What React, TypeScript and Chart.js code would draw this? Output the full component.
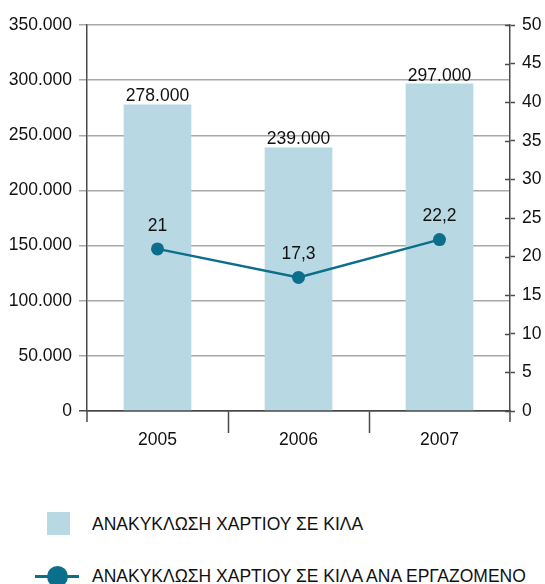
import React, { useEffect, useRef } from "react";
import { Chart, registerables } from "chart.js";

Chart.register(...registerables);

const categories = ["2005", "2006", "2007"];
const paperKg = [278000, 239000, 297000];
const paperKgPerEmployee = [21, 17.3, 22.2];
const leftTicksMax = 350000;
const leftTicksStep = 50000;
const rightTicksMax = 50;
const rightTicksStep = 5;
const legendLabels = [
  "ΑΝΑΚΥΚΛΩΣΗ ΧΑΡΤΙΟΥ ΣΕ ΚΙΛΑ",
  "ΑΝΑΚΥΚΛΩΣΗ ΧΑΡΤΙΟΥ ΣΕ ΚΙΛΑ ΑΝΑ ΕΡΓΑΖΟΜΕΝΟ",
];

const BAR_COLOR = "#b8d8e4";
const LINE_COLOR = "#0b6e8b";
const GRID_COLOR = "#a8a8a8";
const AXIS_COLOR = "#4a4a4a";
const TEXT_COLOR = "#111111";
const FONT = "'Liberation Sans', Arial, sans-serif";
const FONT_SIZE = 17.5;

function fmtThousands(v: number): string {
  const s = Math.round(v).toString();
  return s.replace(/\B(?=(\d{3})+(?!\d))/g, ".");
}
function fmtDecimal(v: number): string {
  return v.toString().replace(".", ",");
}

const labelsPlugin = {
  id: "valueLabels",
  afterDatasetsDraw(chart: any) {
    const ctx = chart.ctx;
    ctx.save();
    ctx.font = `${FONT_SIZE}px ${FONT}`;
    ctx.fillStyle = TEXT_COLOR;
    ctx.textAlign = "center";
    chart.data.datasets.forEach((ds: any, di: number) => {
      const meta = chart.getDatasetMeta(di);
      meta.data.forEach((el: any, i: number) => {
        const v = ds.data[i];
        if (ds.type === "bar") {
          ctx.textBaseline = "bottom";
          ctx.fillText(fmtThousands(v), el.x, el.y + 1);
        } else {
          ctx.textBaseline = "middle";
          ctx.fillText(fmtDecimal(v), el.x, el.y - 23);
        }
      });
    });
    ctx.restore();
  },
};

const axisExtrasPlugin = {
  id: "axisExtras",
  afterDraw(chart: any) {
    const ctx = chart.ctx;
    const area = chart.chartArea;
    const y1 = chart.scales.y1;
    ctx.save();
    ctx.strokeStyle = AXIS_COLOR;
    ctx.lineWidth = 1.5;
    // inner half of right-axis tick marks
    y1.ticks.forEach((t: any) => {
      const py = Math.round(y1.getPixelForValue(t.value)) + 0.5;
      ctx.beginPath();
      ctx.moveTo(area.right - 5, py);
      ctx.lineTo(area.right, py);
      ctx.stroke();
    });
    // axis extensions below the chart area
    [area.left, area.right].forEach((x: number) => {
      ctx.beginPath();
      ctx.moveTo(x, area.bottom);
      ctx.lineTo(x, area.bottom + 11);
      ctx.stroke();
    });
    ctx.restore();
  },
};

export default function App() {
  const canvasRef = useRef<HTMLCanvasElement | null>(null);

  useEffect(() => {
    const canvas = canvasRef.current;
    if (!canvas) return;
    const chart = new Chart(canvas, {
      type: "bar",
      data: {
        labels: categories,
        datasets: [
          {
            type: "line",
            label: legendLabels[1],
            data: paperKgPerEmployee,
            yAxisID: "y1",
            borderColor: LINE_COLOR,
            backgroundColor: LINE_COLOR,
            borderWidth: 2.5,
            pointRadius: 6.5,
            pointBackgroundColor: LINE_COLOR,
            pointBorderColor: LINE_COLOR,
            pointBorderWidth: 0,
            tension: 0,
            order: 0,
          } as any,
          {
            type: "bar",
            label: legendLabels[0],
            data: paperKg,
            yAxisID: "y",
            backgroundColor: BAR_COLOR,
            borderWidth: 0,
            categoryPercentage: 1,
            barPercentage: 0.48,
            order: 1,
          } as any,
        ],
      },
      options: {
        responsive: false,
        animation: false,
        devicePixelRatio: 1,
        layout: { padding: { top: 25, left: 0, right: 0, bottom: 0 } },
        plugins: {
          legend: { display: false },
          tooltip: { enabled: false },
        },
        scales: {
          x: {
            offset: true,
            grid: {
              offset: true,
              drawOnChartArea: false,
              drawTicks: true,
              tickLength: 22,
              tickWidth: 1.5,
              tickColor: (c: any) =>
                c.type === "scale" || c.index === 0 ? "rgba(0,0,0,0)" : AXIS_COLOR,
            },
            border: { display: true, color: AXIS_COLOR, width: 1.5 },
            ticks: {
              color: TEXT_COLOR,
              font: { family: FONT, size: FONT_SIZE },
              padding: -3,
              maxRotation: 0,
            },
            afterFit: (s: any) => {
              s.height = 50;
            },
          },
          y: {
            position: "left",
            min: 0,
            max: leftTicksMax,
            ticks: {
              stepSize: leftTicksStep,
              color: TEXT_COLOR,
              font: { family: FONT, size: FONT_SIZE },
              padding: 7,
              callback: (v: any) => fmtThousands(Number(v)),
            },
            grid: {
              color: (c: any) => (c.tick && c.tick.value === 0 ? AXIS_COLOR : GRID_COLOR),
              lineWidth: 1.5,
              tickLength: 8,
              drawTicks: true,
            },
            border: { display: true, color: AXIS_COLOR, width: 1.5 },
            afterFit: (s: any) => {
              s.width = 87;
            },
          },
          y1: {
            position: "right",
            min: 0,
            max: rightTicksMax,
            ticks: {
              stepSize: rightTicksStep,
              color: TEXT_COLOR,
              font: { family: FONT, size: FONT_SIZE },
              padding: 7,
            },
            grid: {
              drawOnChartArea: false,
              drawTicks: true,
              tickLength: 5,
              tickWidth: 1.5,
              tickColor: AXIS_COLOR,
            },
            border: { display: true, color: AXIS_COLOR, width: 1.5 },
            afterFit: (s: any) => {
              s.width = 35;
            },
          },
        },
      },
      plugins: [labelsPlugin, axisExtrasPlugin],
    });
    return () => chart.destroy();
  }, []);

  const textStyle: React.CSSProperties = {
    position: "absolute",
    left: 92,
    fontFamily: FONT,
    fontSize: FONT_SIZE,
    color: TEXT_COLOR,
    lineHeight: "20px",
    whiteSpace: "nowrap",
  };

  return (
    <div
      style={{
        position: "fixed",
        left: 0,
        top: 0,
        width: 545,
        height: 584,
        background: "#fff",
        overflow: "hidden",
      }}
    >
      <canvas
        ref={canvasRef}
        width={545}
        height={461}
        style={{ position: "absolute", left: 0, top: 0, width: 545, height: 461 }}
      />
      <div
        style={{
          position: "absolute",
          left: 47,
          top: 512,
          width: 23,
          height: 23,
          background: BAR_COLOR,
        }}
      />
      <div style={{ ...textStyle, top: 514 }}>{legendLabels[0]}</div>
      <div
        style={{
          position: "absolute",
          left: 35,
          top: 575,
          width: 44,
          height: 3,
          background: LINE_COLOR,
        }}
      />
      <div
        style={{
          position: "absolute",
          left: 47,
          top: 566,
          width: 21,
          height: 21,
          borderRadius: "50%",
          background: LINE_COLOR,
        }}
      />
      <div style={{ ...textStyle, top: 566 }}>{legendLabels[1]}</div>
    </div>
  );
}
